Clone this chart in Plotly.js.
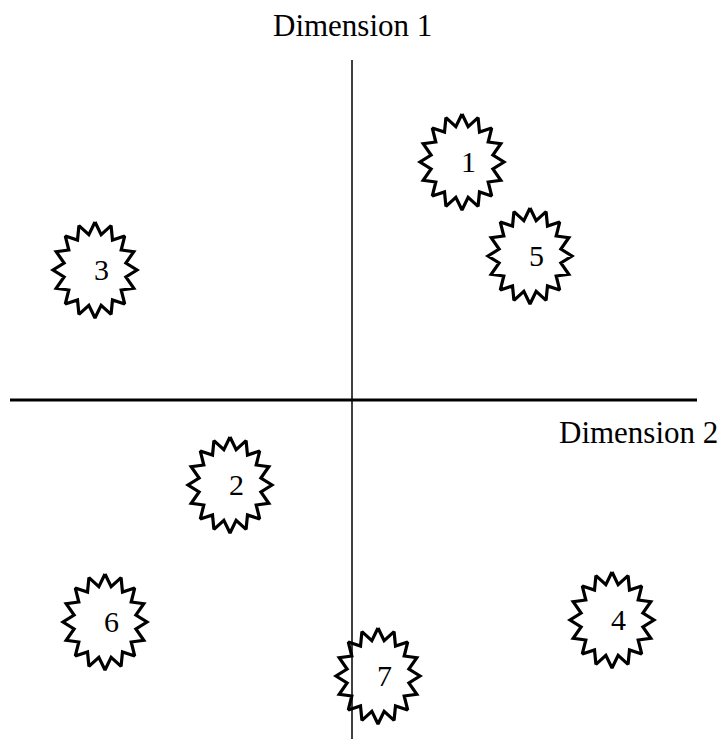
<!DOCTYPE html>
<html>
<head>
<meta charset="utf-8">
<script src="https://cdn.plot.ly/plotly-3.0.1.min.js"></script>
<style>html,body{margin:0;padding:0;background:#fff;}#chart{width:722px;height:739px;}</style>
</head>
<body>
<div id="chart"></div>
<script>
// Stimuli labels and their positions on the two dimensions
const labels = ["1", "2", "3", "4", "5", "6", "7"];
const dim2 = [1.10, -1.22, -2.57, 2.60, 1.78, -2.47, 0.26];   // horizontal (Dimension 2)
const dim1 = [2.38, -0.85, 1.30, -2.20, 1.44, -2.22, -2.76];  // vertical (Dimension 1)
const axisTitles = ["Dimension 1", "Dimension 2"];

// Star glyph geometry (styling)
const NPTS = 16, RX = 0.42, RY = 0.48, INNER = 0.75;

const traces = labels.map((lab, i) => {
  const xs = [], ys = [];
  for (let k = 0; k <= 2 * NPTS; k++) {
    const a = Math.PI / 2 - k * Math.PI / NPTS;
    const f = (k % 2 === 0) ? 1 : INNER;
    xs.push(dim2[i] + RX * f * Math.cos(a));
    ys.push(dim1[i] + RY * f * Math.sin(a));
  }
  return {
    type: "scatter", mode: "lines", x: xs, y: ys,
    line: {color: "#000", width: 3.2}, hoverinfo: "skip", showlegend: false
  };
});

const serif = "Liberation Serif, Times New Roman, serif";
const annotations = labels.map((lab, i) => ({
  x: dim2[i], y: dim1[i], xref: "x", yref: "y", text: lab, showarrow: false,
  xshift: 6, yshift: 1,
  font: {family: serif, size: 30, color: "#000"}
}));
annotations.push({
  x: 0, y: 1, xref: "x", yref: "paper", yanchor: "top", yshift: -6,
  text: axisTitles[0], showarrow: false,
  font: {family: serif, size: 31, color: "#000"}
});
annotations.push({
  x: 1, y: 0, xref: "paper", yref: "y", xanchor: "right", yanchor: "top", xshift: -2, yshift: -13,
  text: axisTitles[1], showarrow: false,
  font: {family: serif, size: 31, color: "#000"}
});

const layout = {
  width: 722, height: 739,
  margin: {l: 0, r: 0, t: 0, b: 0},
  paper_bgcolor: "#fff", plot_bgcolor: "#fff",
  xaxis: {range: [-3.52, 3.70], visible: false, fixedrange: true},
  yaxis: {range: [-3.39, 4.00], visible: false, fixedrange: true},
  shapes: [
    {type: "line", xref: "x", yref: "y", x0: -3.42, x1: 3.45, y0: 0, y1: 0,
     line: {color: "#000", width: 3}},
    {type: "line", xref: "x", yref: "y", x0: 0, x1: 0, y0: -3.39, y1: 3.40,
     line: {color: "#000", width: 1.5}}
  ],
  annotations: annotations,
  showlegend: false
};

Plotly.newPlot("chart", traces, layout, {displayModeBar: false, staticPlot: true});
</script>
</body>
</html>
